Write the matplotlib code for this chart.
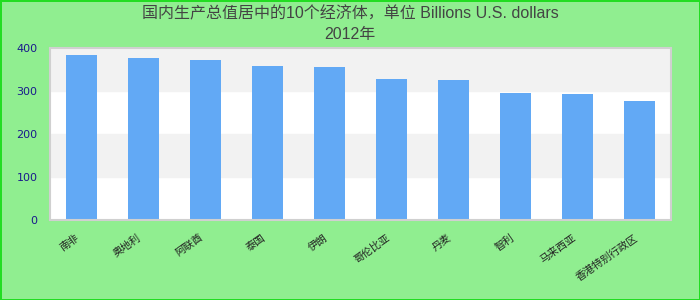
import matplotlib
matplotlib.use('Agg')
import matplotlib.pyplot as plt

# GDP 2012, billions of US dollars
countries = ['南非', '奥地利', '阿联酋', '泰国', '伊朗',
             '哥伦比亚', '丹麦', '智利', '马来西亚', '香港特别行政区']
gdp_2012 = [384, 377, 372, 358, 356, 328, 326, 295, 293, 277]
y_ticks = [0, 100, 200, 300, 400]

title_text = '国内生产总值居中的10个经济体，单位 Billions U.S. dollars\n2012年'

plt.rcParams['font.family'] = ['DejaVu Sans', 'Noto Sans CJK SC']

fig = plt.figure(figsize=(7, 3), dpi=100)
fig.patch.set_facecolor('#90ee90')
fig.patch.set_edgecolor('#22dd22')
fig.patch.set_linewidth(2)

ax = fig.add_axes([0.0714, 0.2667, 0.887, 0.5733])
ax.set_facecolor('white')

# alternating grey bands behind the bars
for i in range(len(y_ticks) - 1):
    if i % 2 == 1:
        ax.axhspan(y_ticks[i], y_ticks[i + 1], color='#f2f2f2', zorder=0)

ax.bar(range(len(countries)), gdp_2012, width=0.5, color='#62a9f5', zorder=2)

ax.set_xlim(-0.5, len(countries) - 0.5)
ax.set_ylim(0, 400)
ax.set_yticks(y_ticks)
ax.set_xticks(range(len(countries)))
ax.set_xticklabels(countries, rotation=35, ha='right', fontsize=7.5,
                   color='#222222', family=['Noto Sans CJK SC', 'DejaVu Sans'])
ax.tick_params(axis='y', length=0, pad=9, labelsize=8, labelcolor='#1a1a8c')
ax.tick_params(axis='x', length=0, pad=9)

for s in ax.spines.values():
    s.set_color('#d0d0d0')
    s.set_linewidth(1.5)

fig.suptitle(title_text, y=0.98, fontsize=11.5, color='#444444',
             family=['Liberation Sans', 'Noto Sans CJK SC'], linespacing=1.45)

fig.savefig('out.png', dpi=100, facecolor=fig.get_facecolor(),
            edgecolor=fig.get_edgecolor())
